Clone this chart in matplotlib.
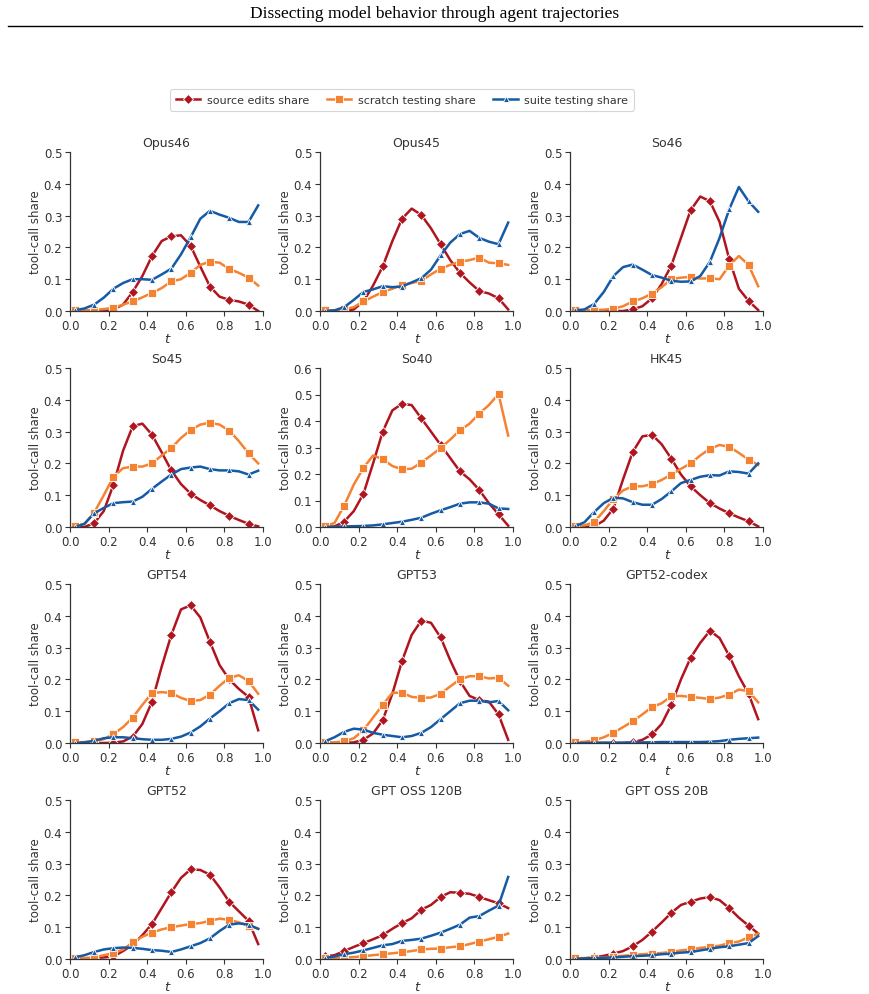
import matplotlib
matplotlib.use("Agg")
import matplotlib.pyplot as plt
import numpy as np

t = [0.025, 0.075, 0.125, 0.175, 0.225, 0.275, 0.325, 0.375, 0.425, 0.475,
     0.525, 0.575, 0.625, 0.675, 0.725, 0.775, 0.825, 0.875, 0.925, 0.975]

models = ["Opus46", "Opus45", "So46", "So45", "So40", "HK45",
          "GPT54", "GPT53", "GPT52-codex", "GPT52", "GPT OSS 120B", "GPT OSS 20B"]

source_edits = {
    "Opus46": [0, 0, 0, 0, 0.005, 0.02, 0.06, 0.11, 0.173, 0.22, 0.235, 0.238, 0.205, 0.14, 0.077, 0.045, 0.035, 0.03, 0.02, 0.0],
    "Opus45": [0, 0, 0, 0.005, 0.03, 0.08, 0.14, 0.22, 0.29, 0.322, 0.302, 0.26, 0.21, 0.16, 0.12, 0.09, 0.063, 0.055, 0.04, 0.005],
    "So46": [0, 0, 0, 0, 0, 0, 0.005, 0.015, 0.04, 0.085, 0.143, 0.23, 0.317, 0.36, 0.345, 0.28, 0.163, 0.07, 0.032, 0.003],
    "So45": [0, 0, 0.012, 0.05, 0.133, 0.24, 0.317, 0.325, 0.29, 0.235, 0.178, 0.135, 0.105, 0.085, 0.068, 0.05, 0.035, 0.022, 0.01, 0.002],
    "So40": [0, 0.002, 0.02, 0.06, 0.125, 0.24, 0.36, 0.44, 0.465, 0.46, 0.41, 0.36, 0.31, 0.26, 0.21, 0.18, 0.14, 0.09, 0.048, 0.005],
    "HK45": [0, 0, 0.002, 0.02, 0.058, 0.15, 0.236, 0.285, 0.29, 0.26, 0.215, 0.165, 0.128, 0.1, 0.075, 0.058, 0.043, 0.03, 0.018, 0.002],
    "GPT54": [0, 0, 0, 0, 0.001, 0.005, 0.02, 0.06, 0.13, 0.24, 0.34, 0.42, 0.433, 0.395, 0.318, 0.245, 0.2, 0.17, 0.145, 0.04],
    "GPT53": [0, 0, 0, 0.002, 0.01, 0.03, 0.072, 0.155, 0.258, 0.34, 0.385, 0.378, 0.332, 0.26, 0.195, 0.148, 0.135, 0.13, 0.09, 0.01],
    "GPT52-codex": [0, 0, 0, 0, 0, 0, 0.002, 0.01, 0.027, 0.06, 0.12, 0.2, 0.268, 0.315, 0.353, 0.33, 0.274, 0.21, 0.155, 0.075],
    "GPT52": [0, 0, 0.003, 0.005, 0.008, 0.025, 0.045, 0.075, 0.11, 0.16, 0.21, 0.255, 0.282, 0.28, 0.265, 0.225, 0.18, 0.15, 0.12, 0.047],
    "GPT OSS 120B": [0.008, 0.012, 0.025, 0.038, 0.05, 0.062, 0.075, 0.095, 0.113, 0.128, 0.155, 0.17, 0.195, 0.21, 0.208, 0.205, 0.195, 0.185, 0.175, 0.16],
    "GPT OSS 20B": [0, 0.002, 0.005, 0.01, 0.017, 0.025, 0.04, 0.06, 0.086, 0.115, 0.145, 0.17, 0.18, 0.19, 0.195, 0.185, 0.16, 0.13, 0.105, 0.08],
}

scratch_testing = {
    "Opus46": [0.002, 0.002, 0.003, 0.006, 0.01, 0.02, 0.03, 0.043, 0.057, 0.072, 0.093, 0.1, 0.12, 0.145, 0.155, 0.152, 0.132, 0.12, 0.105, 0.08],
    "Opus45": [0.002, 0.002, 0.005, 0.012, 0.03, 0.045, 0.06, 0.07, 0.082, 0.088, 0.095, 0.115, 0.133, 0.145, 0.155, 0.16, 0.168, 0.152, 0.15, 0.145],
    "So46": [0.002, 0.002, 0.003, 0.004, 0.007, 0.015, 0.03, 0.04, 0.055, 0.075, 0.1, 0.105, 0.107, 0.102, 0.103, 0.1, 0.143, 0.173, 0.145, 0.078],
    "So45": [0.003, 0.01, 0.045, 0.1, 0.158, 0.185, 0.19, 0.19, 0.2, 0.225, 0.248, 0.28, 0.305, 0.322, 0.328, 0.322, 0.303, 0.27, 0.232, 0.2],
    "So40": [0.003, 0.015, 0.08, 0.16, 0.223, 0.27, 0.256, 0.23, 0.218, 0.22, 0.243, 0.27, 0.298, 0.33, 0.365, 0.39, 0.428, 0.46, 0.502, 0.345],
    "HK45": [0.002, 0.005, 0.015, 0.05, 0.088, 0.115, 0.128, 0.128, 0.135, 0.148, 0.165, 0.183, 0.2, 0.225, 0.246, 0.258, 0.252, 0.233, 0.212, 0.195],
    "GPT54": [0.002, 0.003, 0.005, 0.012, 0.028, 0.05, 0.08, 0.12, 0.157, 0.16, 0.157, 0.142, 0.132, 0.135, 0.152, 0.18, 0.205, 0.213, 0.195, 0.155],
    "GPT53": [0.002, 0.002, 0.005, 0.015, 0.04, 0.08, 0.12, 0.158, 0.158, 0.145, 0.142, 0.143, 0.155, 0.178, 0.2, 0.21, 0.21, 0.203, 0.205, 0.18],
    "GPT52-codex": [0.002, 0.004, 0.008, 0.018, 0.032, 0.05, 0.068, 0.09, 0.113, 0.125, 0.147, 0.148, 0.145, 0.142, 0.138, 0.143, 0.152, 0.168, 0.163, 0.128],
    "GPT52": [0.002, 0.003, 0.005, 0.012, 0.018, 0.03, 0.052, 0.07, 0.083, 0.093, 0.1, 0.105, 0.11, 0.113, 0.12, 0.127, 0.123, 0.115, 0.105, 0.095],
    "GPT OSS 120B": [0.002, 0.003, 0.004, 0.006, 0.009, 0.012, 0.015, 0.018, 0.021, 0.025, 0.03, 0.032, 0.033, 0.037, 0.04, 0.047, 0.055, 0.062, 0.07, 0.08],
    "GPT OSS 20B": [0.002, 0.003, 0.004, 0.005, 0.007, 0.01, 0.013, 0.015, 0.017, 0.019, 0.022, 0.027, 0.03, 0.035, 0.038, 0.042, 0.05, 0.055, 0.068, 0.08],
}

suite_testing = {
    "Opus46": [0.002, 0.008, 0.02, 0.042, 0.07, 0.088, 0.1, 0.1, 0.098, 0.115, 0.133, 0.178, 0.232, 0.29, 0.315, 0.303, 0.293, 0.28, 0.28, 0.332],
    "Opus45": [0, 0.002, 0.012, 0.035, 0.06, 0.068, 0.078, 0.075, 0.077, 0.09, 0.103, 0.13, 0.175, 0.215, 0.242, 0.252, 0.23, 0.218, 0.21, 0.278],
    "So46": [0.002, 0.005, 0.022, 0.06, 0.11, 0.138, 0.146, 0.13, 0.113, 0.105, 0.095, 0.092, 0.093, 0.11, 0.155, 0.23, 0.32, 0.39, 0.345, 0.312],
    "So45": [0, 0.01, 0.043, 0.06, 0.075, 0.078, 0.08, 0.095, 0.12, 0.143, 0.165, 0.182, 0.187, 0.19, 0.182, 0.178, 0.178, 0.175, 0.165, 0.177],
    "So40": [0, 0.001, 0.002, 0.003, 0.004, 0.006, 0.01, 0.015, 0.02, 0.027, 0.035, 0.05, 0.063, 0.075, 0.088, 0.093, 0.093, 0.088, 0.07, 0.068],
    "HK45": [0.002, 0.015, 0.047, 0.075, 0.092, 0.09, 0.078, 0.07, 0.07, 0.088, 0.112, 0.138, 0.148, 0.158, 0.163, 0.162, 0.175, 0.173, 0.168, 0.2],
    "GPT54": [0, 0.002, 0.007, 0.015, 0.018, 0.018, 0.015, 0.012, 0.01, 0.01, 0.013, 0.02, 0.033, 0.052, 0.077, 0.1, 0.125, 0.138, 0.135, 0.105],
    "GPT53": [0.005, 0.018, 0.035, 0.045, 0.042, 0.032, 0.026, 0.022, 0.018, 0.022, 0.032, 0.05, 0.075, 0.1, 0.125, 0.133, 0.133, 0.128, 0.132, 0.103],
    "GPT52-codex": [0, 0, 0.001, 0.001, 0.001, 0.001, 0.002, 0.002, 0.002, 0.003, 0.003, 0.003, 0.003, 0.003, 0.004, 0.006, 0.01, 0.013, 0.015, 0.017],
    "GPT52": [0.005, 0.012, 0.022, 0.03, 0.034, 0.036, 0.035, 0.032, 0.028, 0.026, 0.022, 0.03, 0.04, 0.05, 0.065, 0.088, 0.108, 0.112, 0.108, 0.095],
    "GPT OSS 120B": [0.003, 0.008, 0.015, 0.02, 0.027, 0.035, 0.043, 0.047, 0.057, 0.06, 0.064, 0.073, 0.083, 0.095, 0.108, 0.13, 0.135, 0.152, 0.168, 0.258],
    "GPT OSS 20B": [0.001, 0.002, 0.003, 0.004, 0.005, 0.007, 0.009, 0.01, 0.012, 0.015, 0.017, 0.02, 0.022, 0.027, 0.032, 0.037, 0.04, 0.045, 0.05, 0.072],
}

series_labels = ["source edits share", "scratch testing share", "suite testing share"]
colors = ["#b0151f", "#f58231", "#155aa5"]
markers = ["D", "s", "^"]
msizes = [5.5, 5.5, 5]

plt.rcParams['font.family'] = ['DejaVu Sans']

fig = plt.figure(figsize=(8.69, 9.95), dpi=100)

fig.text(0.5, 0.986, "Dissecting model behavior through agent trajectories",
         ha="center", va="center", fontsize=12.5, family="Liberation Serif")
fig.add_artist(plt.Line2D([8/869, 862/869], [1-27/995, 1-27/995],
                          color="black", lw=1.0, transform=fig.transFigure))

lefts = [70/869, 320/869, 570/869]
bottoms = [1-312/995, 1-528/995, 1-744/995, 1-960/995]
w = 193/869
h = 159/995

txtc = "#333333"
handles = []
for i, m in enumerate(models):
    r, c = divmod(i, 3)
    ax = fig.add_axes([lefts[c], bottoms[r], w, h])
    data = [source_edits[m], scratch_testing[m], suite_testing[m]]
    for k in range(3):
        ln, = ax.plot(t, data[k], color=colors[k], lw=1.8, marker=markers[k],
                      markersize=msizes[k], markevery=2, markeredgecolor="white",
                      markeredgewidth=0.6, label=series_labels[k])
        if i == 0:
            handles.append(ln)
    ax.set_xlim(0, 1)
    ymax = 0.6 if m == "So40" else 0.5
    ax.set_ylim(0, ymax)
    ax.set_xticks(np.arange(0, 1.01, 0.2))
    ax.set_yticks(np.arange(0, ymax + 0.001, 0.1))
    ax.set_xticklabels([f"{v:.1f}" for v in np.arange(0, 1.01, 0.2)])
    ax.set_yticklabels([f"{v:.1f}" for v in np.arange(0, ymax + 0.001, 0.1)])
    for s in ["top", "right"]:
        ax.spines[s].set_visible(False)
    for s in ["left", "bottom"]:
        ax.spines[s].set_color("#333333")
        ax.spines[s].set_linewidth(0.9)
    ax.tick_params(direction="out", length=3.5, width=0.8, colors="#333333",
                   labelsize=8.5, labelcolor=txtc, pad=2)
    ax.set_title(m, fontsize=9, color=txtc, pad=4)
    ax.set_ylabel("tool-call share", fontsize=8.5, color=txtc, labelpad=1)
    ax.set_xlabel("t", fontsize=9.5, style="italic", color=txtc, labelpad=0)

leg = fig.legend(handles=handles, loc="center", bbox_to_anchor=(402/869, 1-101/995),
                 ncol=3, fontsize=8, frameon=True, handlelength=2.2,
                 columnspacing=1.6, handletextpad=0.6, borderpad=0.5)
leg.get_frame().set_edgecolor("#cccccc")
leg.get_frame().set_linewidth(0.8)
for txt in leg.get_texts():
    txt.set_color(txtc)

fig.savefig("out.png", dpi=100)
